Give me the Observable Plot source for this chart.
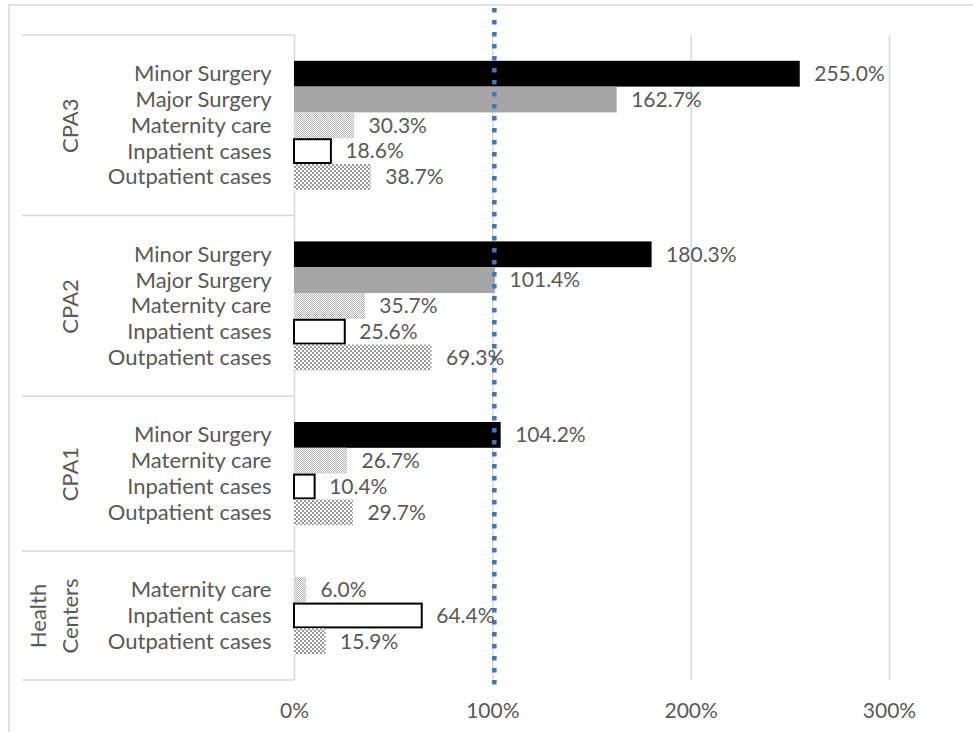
<!DOCTYPE html>
<html>
<head>
<meta charset="utf-8">
<script src="https://cdn.jsdelivr.net/npm/d3@7"></script>
<script src="https://cdn.jsdelivr.net/npm/@observablehq/plot@0.6"></script>
<style>
  body { margin: 0; background: #ffffff; }
  #chart { position: relative; width: 973px; height: 732px; }
</style>
</head>
<body>
<svg width="0" height="0" style="position:absolute">
  <defs>
    <pattern id="patMat" width="2" height="2" patternUnits="userSpaceOnUse">
      <rect width="2" height="2" fill="#ffffff"/>
      <rect width="1" height="1" fill="#b0b0b0"/>
      <rect x="1" y="1" width="1" height="1" fill="#b0b0b0"/>
    </pattern>
    <pattern id="patOut" width="4" height="4" patternUnits="userSpaceOnUse">
      <rect width="4" height="4" fill="#ffffff"/>
      <rect width="2" height="2" fill="#9a9a9a"/>
      <rect x="2" y="2" width="2" height="2" fill="#9a9a9a"/>
    </pattern>
  </defs>
</svg>
<div id="chart"></div>
<script>
// ---- data ----
const groups = ["CPA3", "CPA2", "CPA1", "Health Centers"];
const categories = ["Minor Surgery", "Major Surgery", "Maternity care", "Inpatient cases", "Outpatient cases"];
const cpa3Values = [255.0, 162.7, 30.3, 18.6, 38.7];
const cpa2Values = [180.3, 101.4, 35.7, 25.6, 69.3];
const cpa1Values = [104.2, null, 26.7, 10.4, 29.7];
const healthCenterValues = [null, null, 6.0, 64.4, 15.9];
const xTicks = [0, 100, 200, 300];
const targetLevel = 100;

// ---- build category slots (one empty slot before and after each group) ----
const groupValues = [cpa3Values, cpa2Values, cpa1Values, healthCenterValues];
const rows = [];
const groupSpans = [];
let slot = 0;
groups.forEach((g, gi) => {
  const start = slot;
  slot += 1;
  categories.forEach((c, ci) => {
    const v = groupValues[gi][ci];
    if (v == null) return;
    rows.push({group: g, category: c, value: v, slot});
    slot += 1;
  });
  slot += 1;
  groupSpans.push({group: g, start, end: slot});
});
const totalSlots = slot;

const barStyles = {
  "Minor Surgery": {fill: "#000000"},
  "Major Surgery": {fill: "#a5a5a5"},
  "Maternity care": {fill: "url(#patMat)"},
  "Inpatient cases": {fill: "#ffffff", stroke: "#000000", strokeWidth: 2, insetTop: 1, insetBottom: 1},
  "Outpatient cases": {fill: "url(#patOut)"}
};

function decorations(index, scales, values, dimensions) {
  const g = d3.create("svg:g");
  g.append("rect")
    .attr("x", 9).attr("y", 5)
    .attr("width", dimensions.width).attr("height", dimensions.height)
    .attr("fill", "none").attr("stroke", "#d9d9d9").attr("stroke-width", 1.5);
  const bounds = [0, ...groupSpans.map(d => d.end)];
  g.selectAll("line").data(bounds).join("line")
    .attr("x1", 22).attr("x2", dimensions.marginLeft)
    .attr("y1", d => scales.y(d)).attr("y2", d => scales.y(d))
    .attr("stroke", "#d9d9d9").attr("stroke-width", 1.5);
  return g.node();
}

const chart = Plot.plot({
  width: 973,
  height: 732,
  marginLeft: 294,
  marginRight: 84,
  marginTop: 35,
  marginBottom: 52,
  style: {fontFamily: "Lato, sans-serif", fontSize: "21px", color: "#595959", background: "#ffffff"},
  x: {domain: [0, 300], ticks: xTicks, tickFormat: d => d + "%", tickSize: 0, tickPadding: 23, label: null},
  y: {domain: [totalSlots, 0], axis: null},
  marks: [
    decorations,
    Plot.ruleX(xTicks, {stroke: "#d9d9d9", strokeWidth: 1.5}),
    ...categories.map(c => Plot.rect(rows.filter(r => r.category === c), {
      x1: () => 0, x2: "value", y1: "slot", y2: d => d.slot + 1, ...barStyles[c]
    })),
    Plot.ruleX([targetLevel], {stroke: "#4472c4", strokeWidth: 4.5, strokeDasharray: "4.5,7.5", insetTop: -27, insetBottom: -10, dx: 1.5}),
    Plot.text(rows, {x: "value", y: d => d.slot + 0.5, text: d => d.value.toFixed(1) + "%", textAnchor: "start", dx: 14}),
    Plot.text(rows, {y: d => d.slot + 0.5, text: "category", frameAnchor: "left", textAnchor: "end", dx: -23, fontSize: 22}),
    Plot.text(groupSpans, {
      y: d => (d.start + d.end) / 2,
      text: d => d.group.replace(" ", "\n"),
      rotate: -90, frameAnchor: "left", dx: -217, lineAnchor: "bottom", lineHeight: 1.45, textAnchor: "middle", fontSize: 22
    })
  ]
});
document.getElementById("chart").appendChild(chart);
</script>
</body>
</html>
